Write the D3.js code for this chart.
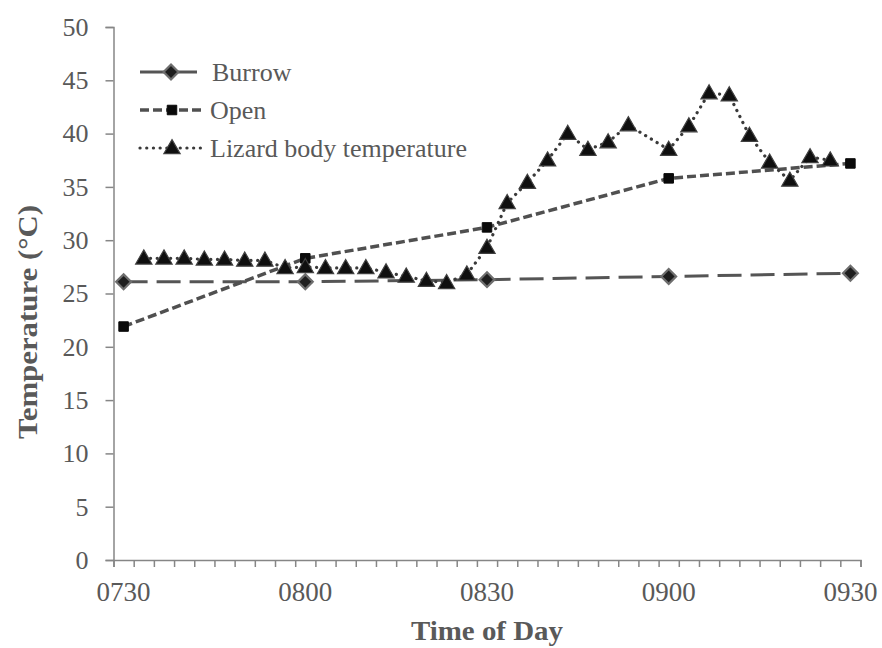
<!DOCTYPE html>
<html>
<head>
<meta charset="utf-8">
<script src="https://cdn.jsdelivr.net/npm/d3@7"></script>
<style>
  html, body { margin: 0; padding: 0; background: #ffffff; }
  svg { display: block; }
</style>
</head>
<body>
<svg id="chart" width="882" height="648"></svg>
<script>
// ---- data ----
const categories = ["0730","0733","0737","0740","0743","0747","0750","0753","0757",
  "0800","0803","0807","0810","0813","0817","0820","0823","0827",
  "0830","0833","0837","0840","0843","0847","0850","0853","0857",
  "0900","0903","0907","0910","0913","0917","0920","0923","0927","0930"];
const tickLabels = ["0730","0800","0830","0900","0930"];
const yTicks = [0,5,10,15,20,25,30,35,40,45,50];

const burrowTimes = ["0730","0800","0830","0900","0930"];
const burrowValues = [26.1, 26.1, 26.3, 26.6, 26.9];

const openTimes = ["0730","0800","0830","0900","0930"];
const openValues = [21.9, 28.3, 31.2, 35.8, 37.2];

const lizardValues = [null, 28.3, 28.3, 28.3, 28.2, 28.2, 28.1, 28.1, 27.4,
  27.5, 27.4, 27.4, 27.4, 27.0, 26.6, 26.2, 26.0, 26.8,
  29.3, 33.5, 35.4, 37.5, 40.0, 38.5, 39.2, 40.8, null,
  38.5, 40.7, 43.8, 43.6, 39.8, 37.3, 35.6, 37.8, 37.5, null];

const seriesNames = ["Burrow", "Open", "Lizard body temperature"];

// ---- layout ----
const svg = d3.select("#chart");
const pLeft = 113.5, pRight = 860.5, pTop = 27, pBottom = 560;
const axisColor = "#868686";
const textColor = "#595959";
const serif = "'Liberation Serif', 'Times New Roman', serif";

const x = d3.scaleBand().domain(categories).range([pLeft, pRight]).paddingInner(0).paddingOuter(0);
const xc = c => x(c) + x.bandwidth() / 2;
const xTickScale = d3.scaleLinear().domain([0, categories.length]).range([pLeft, pRight]);
const y = d3.scaleLinear().domain([0, 50]).range([pBottom, pTop]);

// y axis
const yAxis = svg.append("g").attr("transform", `translate(${pLeft},0)`)
  .call(d3.axisLeft(y).tickValues(yTicks).tickSize(8).tickPadding(17).tickFormat(d3.format("d")));
yAxis.select(".domain").attr("stroke", axisColor).attr("stroke-width", 1.5);
yAxis.selectAll(".tick line").attr("stroke", axisColor).attr("stroke-width", 1.5);
yAxis.selectAll(".tick text").attr("fill", textColor).style("font-family", serif).style("font-size", "26px");

// x axis: tick marks at band edges
const xTicksG = svg.append("g").attr("transform", `translate(0,${pBottom})`)
  .call(d3.axisBottom(xTickScale).tickValues(d3.range(categories.length + 1)).tickSize(7).tickFormat(""));
xTicksG.select(".domain").attr("stroke", axisColor).attr("stroke-width", 1.5);
xTicksG.selectAll(".tick line").attr("stroke", axisColor).attr("stroke-width", 1.5);

// x labels
const xLab = svg.append("g").attr("transform", `translate(0,${pBottom})`)
  .call(d3.axisBottom(x).tickValues(tickLabels).tickSize(0).tickPadding(22));
xLab.select(".domain").remove();
xLab.selectAll(".tick text").attr("fill", textColor).style("font-family", serif).style("font-size", "27px");

// axis titles
svg.append("text").attr("x", (pLeft + pRight) / 2).attr("y", 640)
  .attr("text-anchor", "middle").attr("fill", textColor)
  .attr("textLength", 152).attr("lengthAdjust", "spacingAndGlyphs")
  .style("font-family", serif).style("font-size", "27px").style("font-weight", "bold")
  .text("Time of Day");
svg.append("text").attr("transform", `translate(37,322) rotate(-90)`)
  .attr("text-anchor", "middle").attr("fill", textColor)
  .attr("textLength", 234).attr("lengthAdjust", "spacingAndGlyphs")
  .style("font-family", serif).style("font-size", "27px").style("font-weight", "bold")
  .text("Temperature (°C)");

// ---- series ----
const plot = svg.append("g");

const burrowData = burrowTimes.map((t, i) => ({ c: t, v: burrowValues[i] }));
const openData = openTimes.map((t, i) => ({ c: t, v: openValues[i] }));
const lizardData = categories.map((c, i) => ({ c, v: lizardValues[i] })).filter(d => d.v !== null);

const lineStraight = d3.line().x(d => xc(d.c)).y(d => y(d.v));

const styles = {
  burrow: { stroke: "#555555", width: 3, dash: "24,9", cap: "butt" },
  open: { stroke: "#505050", width: 3.5, dash: "9,4", cap: "butt" },
  lizard: { stroke: "#3a3a3a", width: 3.2, dash: "0.1,6.6", cap: "round" }
};

function drawPath(g, data, gen, s) {
  g.append("path").attr("d", gen(data)).attr("fill", "none")
    .attr("stroke", s.stroke).attr("stroke-width", s.width)
    .attr("stroke-dasharray", s.dash).attr("stroke-linecap", s.cap);
}

const diamond = d3.symbol().type(d3.symbolDiamond2).size(140);
const square = d3.symbol().type(d3.symbolSquare2).size(115);
const triangle = d3.symbol().type(d3.symbolTriangle).size(115);

function drawMarkers(g, data, kind) {
  data.forEach(d => drawMarker(g, xc(d.c), y(d.v), kind));
}
function drawMarker(g, px, py, kind) {
  if (kind === "burrow") {
    g.append("path").attr("d", diamond()).attr("transform", `translate(${px},${py})`)
      .attr("fill", "#1e1e1e").attr("stroke", "#6e6e6e").attr("stroke-width", 2.2);
  } else if (kind === "open") {
    g.append("path").attr("d", square()).attr("transform", `translate(${px},${py})`)
      .attr("fill", "#0a0a0a").attr("stroke", "#0a0a0a").attr("stroke-width", 1);
  } else {
    g.append("path").attr("d", triangle()).attr("transform", `translate(${px},${py + 1})`)
      .attr("fill", "#0f0f0f").attr("stroke", "#404040").attr("stroke-width", 1.2);
  }
}

drawPath(plot, burrowData, lineStraight, styles.burrow);
drawPath(plot, openData, lineStraight, styles.open);
drawPath(plot, lizardData, lineStraight, styles.lizard);
drawMarkers(plot, burrowData, "burrow");
drawMarkers(plot, openData, "open");
drawMarkers(plot, lizardData, "lizard");

// ---- legend ----
const legend = svg.append("g");
const legendKinds = ["burrow", "open", "lizard"];
const legendY = [72, 110, 148];
legendKinds.forEach((k, i) => {
  const ly = legendY[i];
  const s = styles[k];
  legend.append("line").attr("x1", 140).attr("x2", k === "burrow" ? 197 : 205)
    .attr("y1", ly).attr("y2", ly)
    .attr("stroke", s.stroke).attr("stroke-width", s.width)
    .attr("stroke-dasharray", k === "burrow" ? null : s.dash).attr("stroke-linecap", s.cap);
  drawMarker(legend, k === "burrow" ? 171 : 172, ly, k);
  legend.append("text").attr("x", k === "burrow" ? 212 : 210).attr("y", ly).attr("dy", "0.33em")
    .attr("fill", textColor).style("font-family", serif).style("font-size", "26px")
    .text(seriesNames[i]);
});
</script>
</body>
</html>
